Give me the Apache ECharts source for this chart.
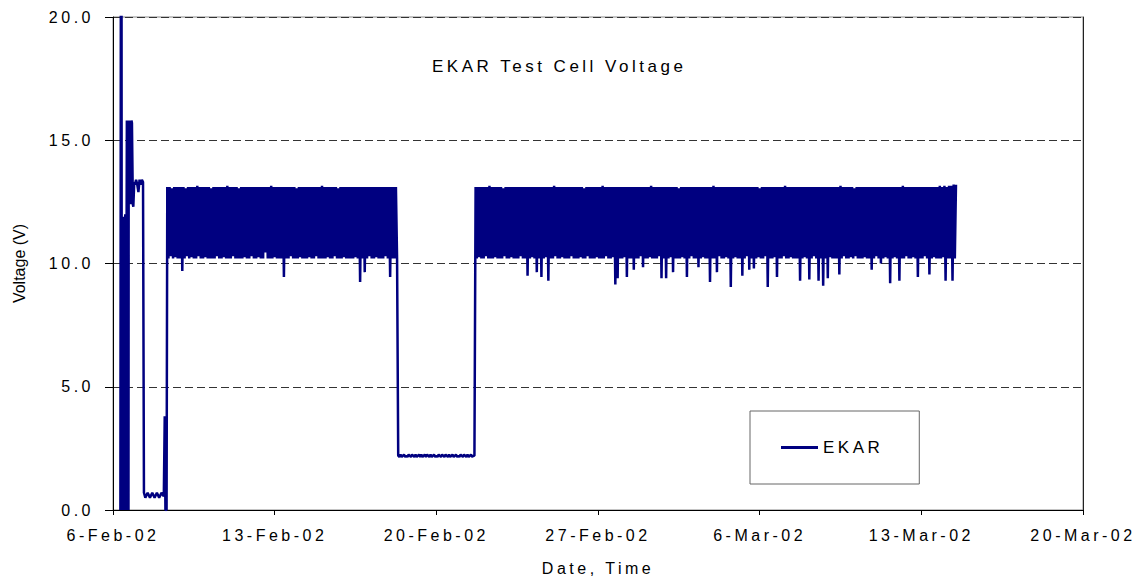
<!DOCTYPE html>
<html>
<head>
<meta charset="utf-8">
<script src="https://cdn.jsdelivr.net/npm/echarts@6/dist/echarts.min.js"></script>
<style>
  html, body { margin: 0; padding: 0; background: #fff; }
  #chart { width: 1142px; height: 582px; }
  /* the original plot uses wide letter spacing on nearly all its text */
  #chart text { letter-spacing: 3.5px; }
</style>
</head>
<body>
<div id="chart"></div>
<script>
// x values are days after 6-Feb-02 00:00
var xTickLabels = ['6-Feb-02', '13-Feb-02', '20-Feb-02', '27-Feb-02', '6-Mar-02', '13-Mar-02', '20-Mar-02'];
var yTickLabels = ['0.0', '5.0', '10.0', '15.0', '20.0'];
var seriesName = 'EKAR';
var yName = 'Voltage (V)';

// start-up spikes
var earlyDays = [
  0.32, 0.34, 0.36, 0.37, 0.38, 0.39, 0.40, 0.41, 0.42, 0.43, 0.44, 0.45, 0.46, 0.47, 0.48, 0.49, 0.50,
  0.51, 0.52, 0.53, 0.54, 0.55, 0.56, 0.57, 0.58, 0.59, 0.60, 0.61, 0.62, 0.63, 0.64, 0.65, 0.66, 0.67, 0.68,
  0.70, 0.72, 0.74, 0.76, 0.78, 0.80, 0.82, 0.86, 0.88, 0.92,
  0.95, 1.00, 1.05, 1.10, 1.15, 1.20, 1.25, 1.30, 1.34,
  1.40, 1.50, 1.60, 1.70, 1.80, 1.90, 2.00, 2.10, 2.20, 2.24, 2.27, 2.32
];
var earlyVolts = [
  0, 22, 0, 22, 0, 11.0, 0, 11.0, 0, 11.8, 0, 11.9, 0, 11.9, 0, 11.9, 0,
  11.9, 0, 12.0, 0, 11.9, 0, 11.9, 0, 11.9, 15.8, 0, 15.8, 0, 15.8, 0, 15.8, 0, 15.8,
  12.4, 15.8, 12.4, 15.8, 12.4, 15.8, 15.7, 12.4, 12.3, 13.3,
  13.2, 13.4, 13.2, 12.9, 13.4, 13.2, 13.4, 13.3, 0.7,
  0.5, 0.7, 0.5, 0.7, 0.5, 0.7, 0.5, 0.7, 0.55, 3.8, 0, 0
];

// cycling, first run (sampled every 0.05 day)
var band1Start = 2.35;
var band1Volts = [
  13.1,10.2,13.1,10.3,13.05,10.2,13.1,10.25,13.1,10.2,13.1,10.2,13.1,9.7,13.1,10.2,13.05,10.3,13.1,10.2,
  13.1,10.25,13.1,10.2,13.1,10.2,13.15,10.3,13.1,10.2,13.1,10.2,13.1,10.25,13.1,10.2,13.1,10.2,13.05,10.2,
  13.1,10.2,13.1,10.3,13.1,10.2,13.1,10.2,13.1,10.25,13.1,10.2,13.15,10.2,13.1,10.2,13.1,10.3,13.1,10.2,
  13.1,10.2,13.05,10.2,13.1,10.2,13.1,10.25,13.1,10.2,13.1,10.2,13.1,10.3,13.1,10.2,13.1,10.2,13.1,10.25,
  13.1,10.2,13.1,10.2,13.1,10.45,13.1,10.2,13.1,10.2,13.15,10.2,13.1,10.25,13.1,10.2,13.1,10.2,13.1,10.2,
  13.1,9.45,13.1,10.2,13.1,10.2,13.1,10.3,13.1,10.2,13.1,10.2,13.05,10.2,13.1,10.25,13.1,10.2,13.1,10.2,
  13.1,10.2,13.1,10.25,13.1,10.2,13.1,10.2,13.1,10.3,13.1,10.2,13.1,10.2,13.15,10.2,13.1,10.2,13.1,10.25,
  13.1,10.2,13.1,10.2,13.1,10.3,13.1,10.2,13.05,10.2,13.1,10.2,13.1,10.25,13.1,10.2,13.1,10.2,13.1,10.2,
  13.1,10.2,13.1,10.25,13.1,10.2,13.1,9.25,13.1,10.2,13.1,9.65,13.1,10.2,13.1,10.3,13.1,10.2,13.1,10.2,
  13.1,10.25,13.1,10.2,13.1,10.2,13.1,10.2,13.1,10.3,13.1,10.2,13.1,9.45,13.1,10.2,13.1,10.2,13.1,10.2
];

// rest period (sampled every 0.05 day)
var restStart = 12.35;
var restVolts = [
  2.2,2.15,2.25,2.15,2.2,2.25,2.15,2.2,2.15,2.25,2.2,2.15,2.25,2.2,2.15,2.25,2.15,2.2,2.25,2.15,
  2.25,2.15,2.2,2.25,2.15,2.25,2.2,2.15,2.25,2.15,2.2,2.25,2.15,2.2,2.15,2.25,2.2,2.15,2.25,2.2,
  2.15,2.25,2.2,2.15,2.25,2.15,2.2,2.25,2.15,2.2,2.25,2.15,2.2,2.15,2.25,2.2,2.15,2.25,2.2,2.15,
  2.25,2.15,2.2,2.25,2.15,2.2,2.2
];

// cycling, second run (sampled every 0.05 day)
var band2Start = 15.70;
var band2Volts = [
  13.1,10.2,13.1,10.25,13.1,10.2,13.1,10.2,13.1,10.3,13.1,10.2,13.15,10.2,13.1,10.2,13.1,10.25,13.1,10.2,
  13.1,10.2,13.1,10.2,13.05,10.3,13.1,10.2,13.1,10.2,13.1,10.25,13.1,10.2,13.1,10.2,13.1,10.2,13.1,10.3,
  13.1,10.2,13.1,10.2,13.1,9.5,13.1,10.2,13.1,10.25,13.1,10.2,13.1,9.65,13.1,10.2,13.1,9.45,13.1,10.2,
  13.1,10.25,13.1,9.3,13.1,10.2,13.1,10.2,13.15,10.3,13.1,10.2,13.1,10.2,13.1,10.25,13.1,10.2,13.1,10.2,
  13.1,10.2,13.1,10.3,13.1,10.2,13.1,10.2,13.1,10.2,13.1,10.25,13.1,10.2,13.05,10.2,13.1,10.3,13.1,10.2,
  13.1,10.2,13.1,10.2,13.1,10.25,13.1,10.2,13.1,10.2,13.15,10.2,13.1,10.3,13.1,10.2,13.1,10.2,13.1,10.25,
  13.1,9.15,13.1,9.4,13.1,10.2,13.1,10.2,13.1,10.25,13.1,9.45,13.1,10.2,13.1,10.2,13.1,9.75,13.1,10.2,
  13.1,10.2,13.1,10.3,13.1,9.85,13.1,10.2,13.1,10.2,13.1,10.25,13.15,10.2,13.1,10.2,13.1,10.2,13.1,10.3,
  13.1,9.4,13.1,10.2,13.1,9.4,13.1,10.2,13.1,10.25,13.1,9.65,13.1,10.2,13.1,10.2,13.05,10.2,13.1,10.25,
  13.1,10.2,13.1,9.45,13.1,10.2,13.1,10.3,13.1,10.2,13.1,10.2,13.1,9.85,13.1,10.2,13.1,10.25,13.1,10.2,
  13.1,10.2,13.1,9.25,13.1,10.2,13.15,10.2,13.1,9.65,13.1,10.3,13.1,10.2,13.1,10.2,13.1,10.25,13.1,10.2,
  13.1,9.05,13.1,10.2,13.1,10.25,13.1,10.2,13.1,10.2,13.1,9.5,13.1,10.2,13.1,10.3,13.1,9.75,13.1,10.2,
  13.1,9.8,13.1,10.2,13.1,10.25,13.05,10.2,13.1,10.2,13.1,10.3,13.1,9.05,13.1,10.2,13.1,10.2,13.1,10.25,
  13.1,9.45,13.1,10.2,13.1,10.2,13.1,10.3,13.15,10.2,13.1,10.2,13.1,10.25,13.1,10.2,13.1,10.2,13.1,10.2,
  13.1,9.3,13.1,10.2,13.1,10.25,13.1,10.2,13.1,9.35,13.1,10.2,13.1,10.3,13.1,10.2,13.1,9.3,13.1,10.2,
  13.1,9.1,13.1,10.2,13.1,9.4,13.1,10.25,13.1,10.2,13.1,10.2,13.1,10.2,13.1,9.55,13.15,10.2,13.1,10.3,
  13.1,10.2,13.1,10.2,13.1,10.25,13.1,10.2,13.05,10.3,13.1,10.2,13.1,10.2,13.1,10.2,13.1,10.25,13.1,10.2,
  13.1,10.2,13.1,9.75,13.1,10.2,13.1,10.3,13.1,10.2,13.1,10.0,13.1,10.2,13.1,10.25,13.1,10.2,13.1,9.2,
  13.1,10.2,13.1,10.25,13.1,10.2,13.1,9.3,13.1,10.2,13.15,10.2,13.1,10.3,13.1,10.2,13.1,10.2,13.1,10.25,
  13.1,10.2,13.1,9.45,13.1,10.2,13.1,10.2,13.1,10.3,13.1,10.2,13.1,9.55,13.1,10.2,13.1,10.25,13.1,10.2,
  13.1,10.2,13.15,10.2,13.1,10.25,13.15,9.3,13.1,10.2,13.15,10.2,13.15,9.3,13.2,10.2,13.2
];

var chartData = [];
earlyDays.forEach(function (d, i) {
  chartData.push([d, earlyVolts[i]]);
});
function addRun(start, step, volts) {
  volts.forEach(function (v, i) {
    chartData.push([+(start + i * step).toFixed(3), v]);
  });
}
addRun(band1Start, 0.05, band1Volts);
addRun(restStart, 0.05, restVolts);
addRun(band2Start, 0.05, band2Volts);

var font = "'Liberation Sans', Arial, sans-serif";
var chartDom = document.getElementById('chart');
var chartInstance = echarts.init(chartDom, null, { renderer: 'svg' });

var option = {
  animation: false,
  textStyle: { fontFamily: font, color: '#000' },
  title: {
    text: 'EKAR Test Cell Voltage',
    left: 432,
    top: 58,
    padding: 0,
    textStyle: { fontFamily: font, fontSize: 17, fontWeight: 'normal', color: '#000' }
  },
  legend: {
    left: 750,
    top: 411,
    padding: [28, 50, 28, 31],
    borderColor: '#666',
    borderWidth: 1,
    backgroundColor: '#fff',
    icon: 'rect',
    itemWidth: 37,
    itemHeight: 3,
    textStyle: { fontFamily: font, fontSize: 17, color: '#000' },
    data: [seriesName]
  },
  grid: {
    left: 113,
    right: 59,
    top: 17,
    bottom: 72,
    show: true,
    borderColor: '#888',
    borderWidth: 1,
    outerBoundsMode: 'none'
  },
  xAxis: {
    type: 'value',
    min: 0,
    max: 42,
    interval: 7,
    name: 'Date, Time',
    nameLocation: 'middle',
    nameGap: 50,
    nameTextStyle: { fontFamily: font, fontSize: 16, color: '#000' },
    axisLine: { lineStyle: { color: '#000', width: 1 } },
    axisTick: { length: 5, lineStyle: { color: '#000' } },
    axisLabel: {
      fontFamily: font,
      fontSize: 16,
      color: '#000',
      margin: 17,
      formatter: function (v) { return xTickLabels[Math.round(v / 7)]; }
    },
    splitLine: { show: false }
  },
  yAxis: [
    {
      type: 'value',
      min: 0,
      max: 20,
      interval: 5,
      name: yName,
      nameLocation: 'middle',
      nameGap: 86,
      nameTextStyle: { fontFamily: font, fontSize: 16, color: '#000' },
      axisLine: { show: true, lineStyle: { color: '#000', width: 1 } },
      axisTick: { show: true, length: 8, lineStyle: { color: '#000' } },
      axisLabel: {
        fontFamily: font,
        fontSize: 16,
        color: '#000',
        margin: 19,
        formatter: function (v) { return yTickLabels[Math.round(v / 5)]; }
      },
      splitLine: { show: true, lineStyle: { color: '#333', width: 1, type: [8, 4] } }
    },
    {
      type: 'value',
      position: 'right',
      min: 0,
      max: 20,
      interval: 5,
      axisLine: { show: true, onZero: false, lineStyle: { color: '#222', width: 1 } },
      axisTick: { show: false },
      axisLabel: { show: false },
      splitLine: { show: false }
    }
  ],
  series: [
    {
      name: seriesName,
      type: 'line',
      symbol: 'none',
      smooth: false,
      clip: true,
      lineStyle: { color: '#000080', width: 2.5 },
      itemStyle: { color: '#000080' },
      data: chartData
    }
  ]
};

chartInstance.setOption(option);

// the axis title on the left has normal spacing
function fixSpacing() {
  chartDom.querySelectorAll('text').forEach(function (t) {
    if (t.textContent === yName) {
      t.style.letterSpacing = '0px';
    }
  });
}
fixSpacing();
chartInstance.on('finished', fixSpacing);
</script>
</body>
</html>
